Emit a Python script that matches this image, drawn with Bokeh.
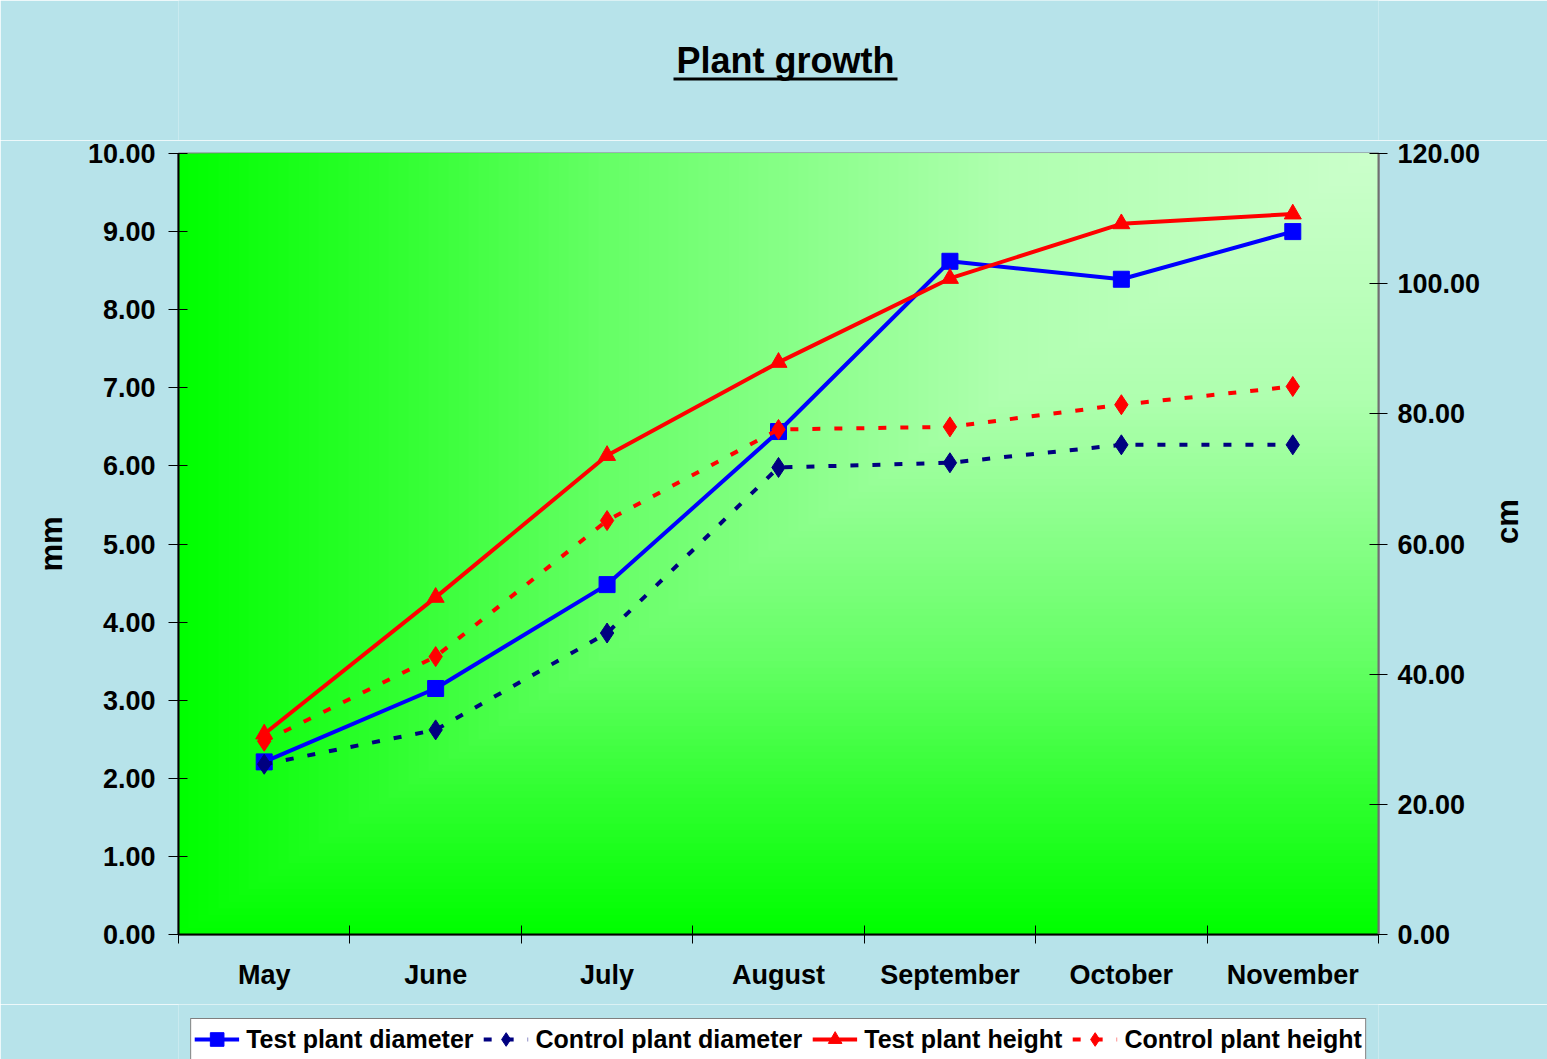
import numpy as np
from bokeh.plotting import figure
from bokeh.layouts import column
from bokeh.models import (Range1d, LinearAxis, FixedTicker, NumeralTickFormatter,
                          Legend, LegendItem)
from bokeh.core.properties import value
from bokeh.embed import file_html
from bokeh.resources import INLINE

# ---------------- data ----------------
months = ["May", "June", "July", "August", "September", "October", "November"]
test_diameter = [2.21, 3.15, 4.48, 6.44, 8.62, 8.39, 9.00]       # mm (left axis)
control_diameter = [2.18, 2.62, 3.86, 5.98, 6.04, 6.27, 6.27]    # mm (left axis)
test_height = [30.8, 51.8, 73.6, 87.9, 100.8, 109.2, 110.7]      # cm (right axis)
control_height = [29.7, 42.7, 63.6, 77.6, 78.0, 81.4, 84.2]      # cm (right axis)
left_ticks = [0, 1, 2, 3, 4, 5, 6, 7, 8, 9, 10]
right_ticks = [0, 20, 40, 60, 80, 100, 120]
title_text = "Plant growth"
left_label = "mm"
right_label = "cm"
series_labels = ["Test plant diameter", "Control plant diameter",
                 "Test plant height", "Control plant height"]

FONT = "Liberation Sans"
BG = "#b7e3ea"
TOP_H = 140          # title strip
MAIN_BOTTOM = 70     # space under the plot area for the month labels
LEG_H = 55           # legend strip

x_pos = [i + 0.5 for i in range(len(months))]
n = len(months)


def strip(h):
    f = figure(frame_width=1200, frame_height=h,
               x_range=Range1d(178, 1378), y_range=Range1d(h, 0),
               output_backend="svg", toolbar_location=None,
               x_axis_location=None, y_axis_location=None,
               min_border_left=178, min_border_right=169,
               min_border_top=0, min_border_bottom=0,
               background_fill_color=BG, border_fill_color=BG)
    f.outline_line_color = None
    f.grid.visible = False
    return f


# ---------------- title strip (text + underline) ----------------
top = strip(TOP_H)
top.text(x=[785], y=[60], text=[title_text], text_font=value(FONT),
         text_font_style="bold", text_font_size="36px", text_color="black",
         text_align="center", text_baseline="alphabetic")
top.segment(x0=[673], y0=[78.5], x1=[897], y1=[78.5],
            line_color="black", line_width=3)

# ---------------- main chart ----------------
p = figure(frame_width=1200, frame_height=781,
           x_range=Range1d(0, n), y_range=Range1d(0, 10),
           output_backend="svg", toolbar_location=None,
           min_border_left=178, min_border_right=169,
           min_border_top=153 - TOP_H, min_border_bottom=MAIN_BOTTOM,
           background_fill_color="#00ff00", border_fill_color=BG)
p.extra_y_ranges = {"cm": Range1d(0, 120)}
p.grid.visible = False
p.outline_line_color = "#808080"
p.outline_line_width = 2

# gradient: nested rectangles anchored at the top-right corner
steps = np.linspace(0, 1, 121)[:-1]
shade = np.interp(steps, [0, 0.185, 0.35, 0.685, 1.0], [0, 0.25, 0.5, 0.86, 1.0])
grad_colors = ["#%02xff%02x" % (int(s * 204), int(s * 204)) for s in shade]
p.quad(left=steps * n, right=n, bottom=steps * 10, top=10,
       fill_color=grad_colors, line_color=None, level="underlay")

# ---------------- series ----------------
styles = [
    dict(color="#0000ff", dash="solid", marker="square", size=16, rng="default"),
    dict(color="#000080", dash="8 14", marker="diamond", size=20, rng="default"),
    dict(color="#ff0000", dash="solid", marker="triangle", size=17, rng="cm"),
    dict(color="#ff0000", dash="8 14", marker="diamond", size=20, rng="cm"),
]
series = [test_diameter, control_diameter, test_height, control_height]
for vals, st in zip(series, styles):
    p.line(x_pos, vals, line_color=st["color"], line_width=4,
           line_dash=st["dash"], y_range_name=st["rng"])
    p.scatter(x_pos, vals, marker=st["marker"], size=st["size"],
              fill_color=st["color"], line_color=st["color"],
              y_range_name=st["rng"])

# ---------------- axes ----------------
xa = p.xaxis[0]
xa.ticker = FixedTicker(ticks=x_pos, minor_ticks=list(range(n + 1)))
xa.major_label_overrides = {xp: m for xp, m in zip(x_pos, months)}
xa.major_tick_out = 0
xa.major_tick_in = 0
xa.minor_tick_out = 9
xa.minor_tick_in = 9
xa.minor_tick_line_color = "black"
xa.axis_line_color = "black"
xa.axis_line_width = 2
xa.major_label_standoff = 16
xa.major_label_text_font = FONT
xa.major_label_text_font_style = "bold"
xa.major_label_text_font_size = "27px"
xa.major_label_text_color = "black"

ya = p.yaxis[0]
ya.ticker = FixedTicker(ticks=left_ticks)
ya.formatter = NumeralTickFormatter(format="0.00")
ya.major_tick_out = 10
ya.major_tick_in = 9
ya.minor_tick_line_color = None
ya.axis_line_color = "black"
ya.axis_line_width = 2
ya.major_label_standoff = 13
ya.major_label_text_font = FONT
ya.major_label_text_font_style = "bold"
ya.major_label_text_font_size = "27px"
ya.major_label_text_color = "black"
ya.axis_label = left_label
ya.axis_label_standoff = 16
ya.axis_label_text_font = FONT
ya.axis_label_text_font_style = "bold"
ya.axis_label_text_font_size = "31px"
ya.axis_label_text_color = "black"

ra = LinearAxis(y_range_name="cm", ticker=FixedTicker(ticks=right_ticks),
                formatter=NumeralTickFormatter(format="0.00"))
ra.major_tick_out = 9
ra.major_tick_in = 9
ra.minor_tick_line_color = None
ra.axis_line_color = "#707070"
ra.axis_line_width = 2
ra.major_label_standoff = 10
ra.major_label_text_font = FONT
ra.major_label_text_font_style = "bold"
ra.major_label_text_font_size = "27px"
ra.major_label_text_color = "black"
ra.axis_label = right_label
ra.axis_label_standoff = 24
ra.axis_label_text_font = FONT
ra.axis_label_text_font_style = "bold"
ra.axis_label_text_font_size = "31px"
ra.axis_label_text_color = "black"
if "axis_label_orientation" in ra.properties():
    ra.axis_label_orientation = np.pi / 2
p.add_layout(ra, "right")

# ---------------- legend strip ----------------
# the legend's renderers carry the series data but lie outside this strip's
# visible range, so only their legend samples are seen
leg = strip(LEG_H)
items = []
for lab, vals, st in zip(series_labels, series, styles):
    rl = leg.line(x=x_pos, y=vals, line_color=st["color"], line_width=4,
                  line_dash=st["dash"])
    rm = leg.scatter(x=x_pos, y=vals, marker=st["marker"], size=st["size"],
                     fill_color=st["color"], line_color=st["color"])
    items.append(LegendItem(label=lab, renderers=[rl, rm]))

legend = Legend(items=items, orientation="horizontal", location="top_center")
legend.glyph_width = 45
legend.glyph_height = 34
legend.label_height = 34
legend.label_standoff = 7
legend.spacing = 10
legend.padding = 3
legend.margin = 14
legend.background_fill_color = "white"
legend.background_fill_alpha = 1.0
legend.border_line_color = "black"
legend.border_line_width = 1
legend.label_text_font = FONT
legend.label_text_font_style = "bold"
legend.label_text_font_size = "25px"
legend.label_text_color = "black"
leg.add_layout(legend, "center")

page = column(top, p, leg, spacing=0)
open("out.html", "w").write(file_html(page, INLINE))
